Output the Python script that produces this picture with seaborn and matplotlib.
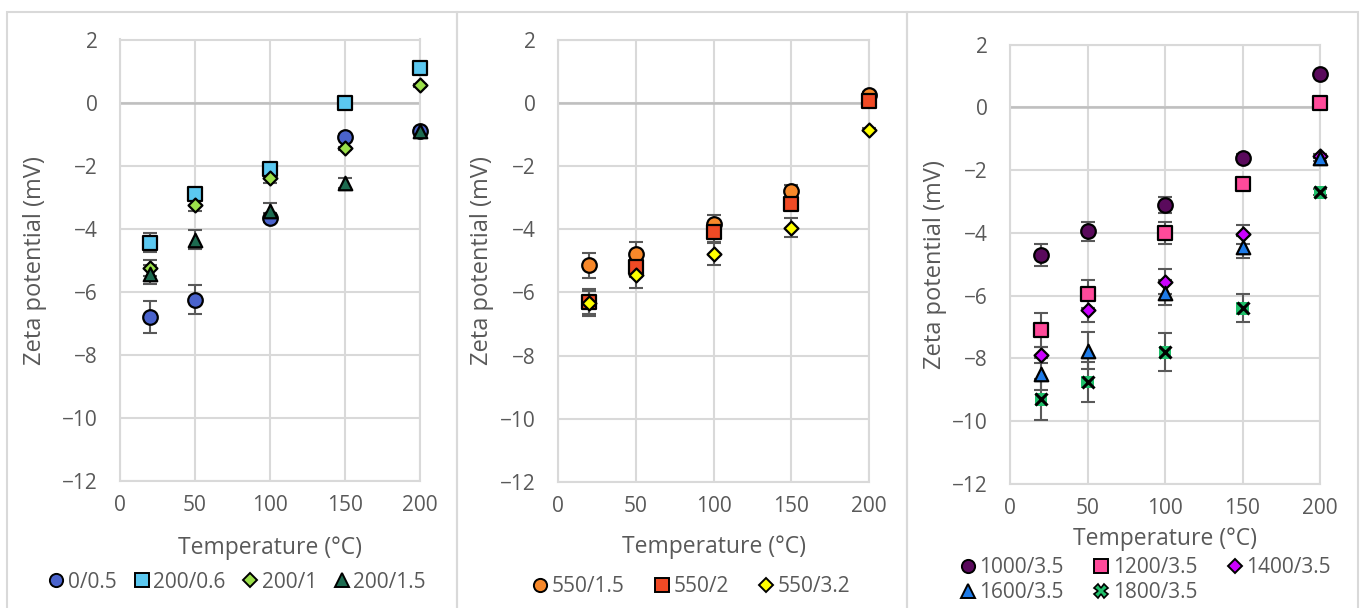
import matplotlib
matplotlib.use("Agg")
import matplotlib.pyplot as plt
import seaborn as sns
import pandas as pd
from matplotlib.lines import Line2D
from matplotlib.patches import Rectangle

temps = [20, 50, 100, 150, 200]

# Panel 1
p1_labels = ["0/0.5", "200/0.6", "200/1", "200/1.5"]
p1_vals = [
    [-6.8, -6.25, -3.65, -1.1, -0.9],
    [-4.45, -2.9, -2.1, 0.0, 1.1],
    [-5.25, -3.25, -2.4, -1.45, 0.55],
    [-5.45, -4.35, -3.45, -2.55, -0.9],
]
p1_errs = [
    [0.5, 0.45, 0.15, 0.1, 0.1],
    [0.3, 0.1, 0.1, 0.05, 0.05],
    [0.25, 0.2, 0.15, 0.05, 0.05],
    [0.3, 0.3, 0.25, 0.15, 0.1],
]
p1_colors = ["#4A63CC", "#5BC8F0", "#9BE04A", "#1D6B50"]
p1_markers = ["o", "s", "D", "^"]

# Panel 2
p2_labels = ["550/1.5", "550/2", "550/3.2"]
p2_vals = [
    [-5.15, -4.8, -3.85, -2.8, 0.25],
    [-6.3, -5.2, -4.1, -3.2, 0.05],
    [-6.35, -5.45, -4.8, -3.95, -0.85],
]
p2_errs = [
    [0.4, 0.4, 0.3, 0.2, 0.1],
    [0.4, 0.3, 0.3, 0.2, 0.1],
    [0.4, 0.4, 0.35, 0.3, 0.05],
]
p2_colors = ["#F7882A", "#F04A25", "#FFFF00"]
p2_markers = ["o", "s", "D"]

# Panel 3
p3_labels = ["1000/3.5", "1200/3.5", "1400/3.5", "1600/3.5", "1800/3.5"]
p3_vals = [
    [-4.7, -3.95, -3.1, -1.6, 1.05],
    [-7.1, -5.95, -4.0, -2.45, 0.15],
    [-7.9, -6.45, -5.55, -4.05, -1.55],
    [-8.5, -7.75, -5.9, -4.45, -1.6],
    [-9.3, -8.75, -7.8, -6.4, -2.7],
]
p3_errs = [
    [0.35, 0.3, 0.25, 0.1, 0.05],
    [0.55, 0.45, 0.35, 0.1, 0.05],
    [0.25, 0.4, 0.4, 0.3, 0.05],
    [0.5, 0.6, 0.4, 0.35, 0.1],
    [0.65, 0.65, 0.6, 0.45, 0.1],
]
p3_colors = ["#5A0A5C", "#FF4A9A", "#CC00FF", "#1E7BE8", "#1FBF6A"]
p3_markers = ["o", "s", "D", "^", "X"]

sns.set_theme(style="white")
plt.rcParams["font.family"] = ["Open Sans", "DejaVu Sans"]
plt.rcParams["axes.unicode_minus"] = True

W, H = 1363, 608
fig = plt.figure(figsize=(W / 100, H / 100), dpi=100)

# panel borders
for x0, x1 in [(7, 457), (457, 907), (907, 1358)]:
    fig.patches.append(Rectangle((x0 / W, -0.01), (x1 - x0) / W, 1.01 - 12 / H,
                                 transform=fig.transFigure, fill=False,
                                 edgecolor="#D9D9D9", linewidth=1.5))

# axes boxes in pixels: left, right, top, bottom
boxes = [(120, 420, 39.5, 481), (558, 869, 39.5, 482), (1010, 1320, 44.6, 484)]
panels = [
    (p1_labels, p1_vals, p1_errs, p1_colors, p1_markers),
    (p2_labels, p2_vals, p2_errs, p2_colors, p2_markers),
    (p3_labels, p3_vals, p3_errs, p3_colors, p3_markers),
]
legend_cfg = [
    dict(ncol=4, y=582, x=236, cs=0.7, order=[0, 1, 2, 3]),
    dict(ncol=3, y=587, x=690, cs=1.3, order=[0, 1, 2]),
    dict(ncol=3, y=580, x=1144, cs=1.3, order=[0, 3, 1, 4, 2]),
]
xlabel_y = [548, 547, 539]
ylabel_x = [35, 482, 935]

sizes = {"o": 110, "s": 105, "D": 50, "^": 95}
leg_ms = {"o": 9.5, "s": 9.5, "D": 6.7, "^": 9.5}

gray = "#595959"
for i, ((l, r, t, b), (labels, vals, errs, colors, markers)) in enumerate(zip(boxes, panels)):
    ax = fig.add_axes([l / W, 1 - b / H, (r - l) / W, (b - t) / H])
    handles = []
    for lab, v, e, c, m in zip(labels, vals, errs, colors, markers):
        ax.errorbar(temps, v, yerr=e, fmt="none", ecolor=gray, elinewidth=1.5,
                    capsize=4.8, capthick=1.5, zorder=3, clip_on=False)
        df = pd.DataFrame({"T": temps, "Z": v})
        if m == "X":
            sns.scatterplot(data=df, x="T", y="Z", marker="s", s=85, color=c,
                            edgecolor="none", ax=ax, zorder=4, legend=False,
                            clip_on=False)
            sns.scatterplot(data=df, x="T", y="Z", marker="x", s=75, color="black",
                            linewidth=2.2, ax=ax, zorder=5, legend=False,
                            clip_on=False)
            h = Line2D([], [], marker="X", linestyle="none", markersize=9.5,
                       markerfacecolor=c, markeredgecolor="black", markeredgewidth=1.2)
        else:
            sns.scatterplot(data=df, x="T", y="Z", marker=m, s=sizes[m], color=c,
                            edgecolor="black", linewidth=1.6, ax=ax, zorder=4,
                            legend=False, clip_on=False)
            h = Line2D([], [], marker=m, linestyle="none", markersize=leg_ms[m],
                       markerfacecolor=c, markeredgecolor="black", markeredgewidth=1.4)
        handles.append((h, lab))

    ax.set_xlim(0, 200)
    ax.set_ylim(-12, 2)
    ax.set_xticks([0, 50, 100, 150, 200])
    ax.set_yticks(range(-12, 3, 2))
    ax.grid(True, color="#D9D9D9", linewidth=1.5)
    ax.set_axisbelow(True)
    ax.axhline(0, color="#BFBFBF", linewidth=1.8, zorder=1)
    for sp in ax.spines.values():
        sp.set_color("#D9D9D9")
        sp.set_linewidth(1.5)
    ax.tick_params(axis="both", length=0, labelsize=15, labelcolor=gray)
    ax.tick_params(axis="x", pad=10)
    ax.tick_params(axis="y", pad=16)
    ax.set_xlabel("Temperature (°C)", fontsize=16.5, color=gray, va="center")
    ax.set_ylabel("Zeta potential (mV)", fontsize=17, color=gray, va="center")
    ax.xaxis.set_label_coords(0.5, (b - xlabel_y[i]) / (b - t))
    ax.yaxis.set_label_coords((ylabel_x[i] - l) / (r - l), 0.5)

    cfg = legend_cfg[i]
    hs = [handles[k][0] for k in cfg["order"]]
    ls = [handles[k][1] for k in cfg["order"]]
    fig.legend(hs, ls, loc="center", bbox_to_anchor=(cfg["x"] / W, 1 - cfg["y"] / H),
               ncol=cfg["ncol"], frameon=False, fontsize=15, labelcolor=gray,
               handletextpad=0.05, columnspacing=cfg["cs"], borderaxespad=0,
               borderpad=0, handlelength=1.0, labelspacing=0.2)

fig.savefig("out.png", dpi=100)
